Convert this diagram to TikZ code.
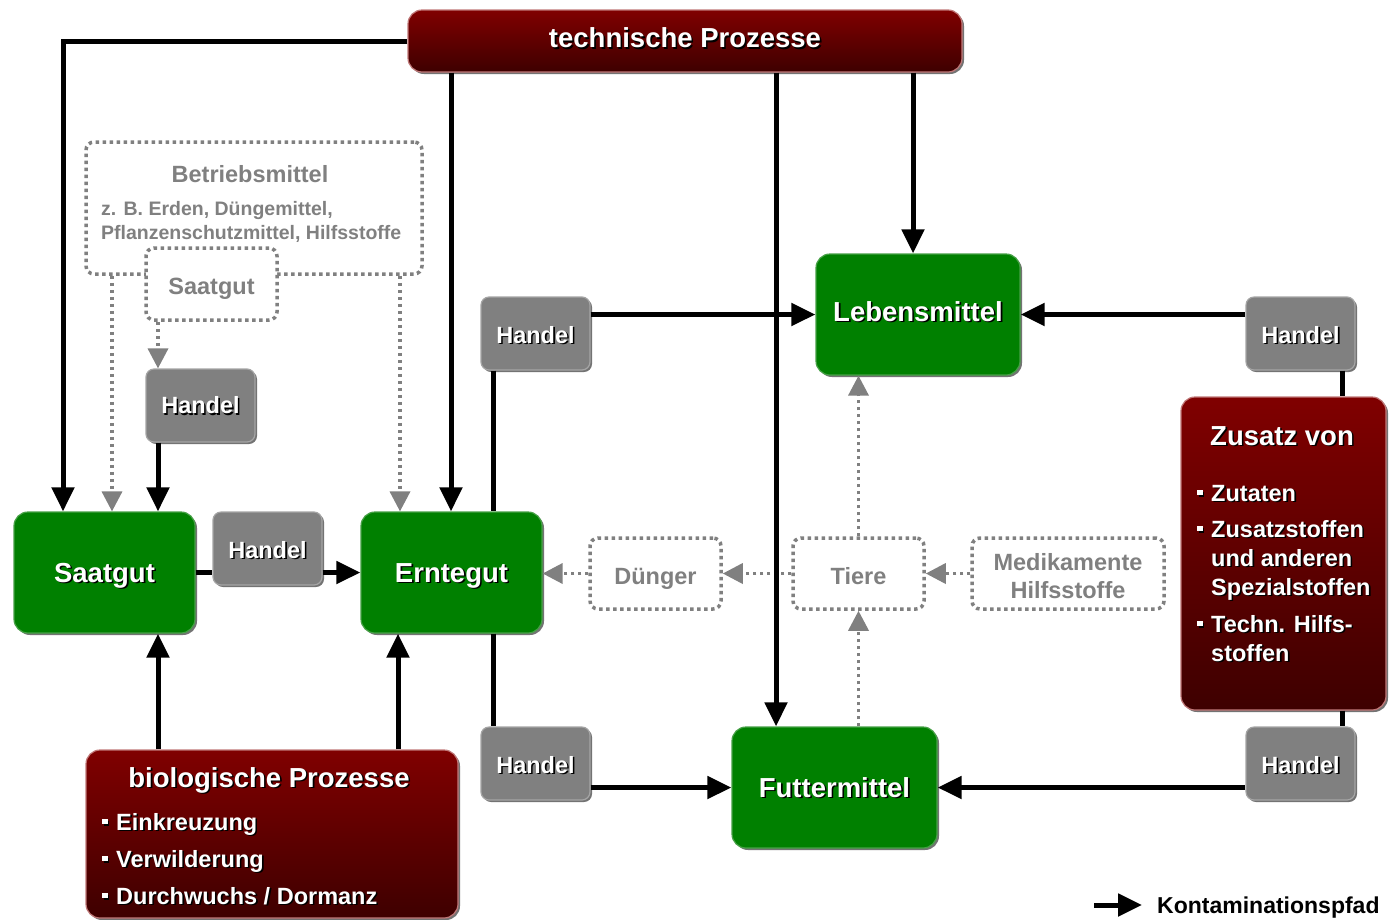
\documentclass[tikz,border=0pt]{standalone}
\usepackage{fontspec}
\setmainfont{Liberation Sans}
\usetikzlibrary{arrows.meta,shadows}

\definecolor{boxgreen}{RGB}{0,128,0}
\definecolor{greenedge}{RGB}{70,160,70}
\definecolor{handelgray}{RGB}{128,128,128}
\definecolor{grayedge}{RGB}{165,165,165}
\definecolor{redtop}{RGB}{128,0,0}
\definecolor{redbottom}{RGB}{62,0,0}
\definecolor{rededge}{RGB}{192,120,120}
\definecolor{dotgray}{RGB}{128,128,128}

% font sizes (1pt = 1 image unit)
\newcommand\fsBig{\fontsize{27.5}{33}\selectfont\bfseries}
\newcommand\fsMid{\fontsize{23.5}{29}\selectfont\bfseries}
\newcommand\fsSmall{\fontsize{19.5}{24}\selectfont\bfseries}
% white text with a black drop shadow
\newcommand\shd[1]{\leavevmode\rlap{\kern1.6pt\raisebox{-1.6pt}{\color{black}#1}}{\color{white}#1}}
% small square bullet
\newcommand\bul{\rule[5.6pt]{5.5pt}{5.5pt}\hspace{8.5pt}}

\tikzset{
  boxshadow/.style={drop shadow={shadow xshift=2pt,shadow yshift=-2pt,opacity=.55,fill=black}},
  greenbox/.style={draw=greenedge, line width=1.2pt, fill=boxgreen, rounded corners=14pt,
    inner sep=0pt, font=\fsBig, text height=19.7pt, text depth=0pt, boxshadow},
  handelbox/.style={draw=grayedge, line width=1.2pt, fill=handelgray, rounded corners=8pt,
    inner sep=0pt, minimum width=109pt, minimum height=73pt,
    font=\fsMid, text height=19.5pt, text depth=0pt, boxshadow},
  redbox/.style={draw=rededge, line width=1.2pt, top color=redtop, bottom color=redbottom,
    rounded corners=14pt, inner sep=0pt, boxshadow},
  dotbox/.style={draw=dotgray, line width=3.5pt, dash pattern=on 3.5pt off 3.5pt,
    rounded corners=8pt, fill=white, text=dotgray, font=\fsMid, inner sep=0pt},
  txt/.style={inner sep=0pt},
  conn/.style={line width=5pt, -{Triangle[length=24pt,width=22pt]}},
  plainline/.style={line width=5pt},
  dotarrow/.style={draw=dotgray, line width=3.5pt, dash pattern=on 3.5pt off 3.5pt,
    -{Triangle[length=20pt,width=20pt,fill=dotgray]}},
}

\begin{document}
\begin{tikzpicture}[x=1pt,y=-1pt]
\useasboundingbox (0,0) rectangle (1391,919);

% process boxes
\node[redbox, minimum width=554pt, minimum height=62pt, font=\fsBig, text height=19.7pt, text depth=6pt]
  (tech) at (685,41) {\shd{technische Prozesse}};
\node[redbox, minimum width=205pt, minimum height=313pt] (zus) at (1283.5,553.5) {};
\node[redbox, minimum width=372pt, minimum height=168pt] (bio) at (272,834) {};

% texts of the process boxes
\node[txt, font=\fsBig, anchor=base] (zusT) at (1282,445) {\shd{Zusatz von}};
\node[txt, font=\fsMid, anchor=base west] (zus1) at (1197,501) {\shd{\bul Zutaten}};
\node[txt, font=\fsMid, anchor=base west] (zus2) at (1197,537) {\shd{\bul Zusatzstoffen}};
\node[txt, font=\fsMid, anchor=base west] (zus3) at (1211,566) {\shd{und anderen}};
\node[txt, font=\fsMid, anchor=base west] (zus4) at (1211,595) {\shd{Spezialstoffen}};
\node[txt, font=\fsMid, anchor=base west] (zus5) at (1197,632) {\shd{\bul Techn. Hilfs-}};
\node[txt, font=\fsMid, anchor=base west] (zus6) at (1211,661) {\shd{stoffen}};

\node[txt, font=\fsBig, anchor=base] (bioT) at (269,787) {\shd{biologische Prozesse}};
\node[txt, font=\fsMid, anchor=base west] (bio1) at (102,830) {\shd{\bul Einkreuzung}};
\node[txt, font=\fsMid, anchor=base west] (bio2) at (102,867) {\shd{\bul Verwilderung}};
\node[txt, font=\fsMid, anchor=base west] (bio3) at (102,904) {\shd{\bul Durchwuchs / Dormanz}};

% products
\node[greenbox, minimum width=181pt, minimum height=121pt] (saat) at (104.5,572.5) {\shd{Saatgut}};
\node[greenbox, minimum width=181pt, minimum height=121pt] (ernte) at (451.5,572.5) {\shd{Erntegut}};
\node[greenbox, minimum width=204pt, minimum height=121pt, text depth=6pt] (lebens) at (918,314.5) {\shd{Lebensmittel}};
\node[greenbox, minimum width=205pt, minimum height=121pt] (futter) at (834.5,787.5) {\shd{Futtermittel}};

% trade
\node[handelbox, text height=16.8pt] (h1) at (200.5,405.5) {\shd{Handel}};
\node[handelbox] (h2) at (267.5,548.5) {\shd{Handel}};
\node[handelbox] (h3) at (535.5,333.5) {\shd{Handel}};
\node[handelbox] (h4) at (1300.5,333.5) {\shd{Handel}};
\node[handelbox] (h5) at (535.5,763.5) {\shd{Handel}};
\node[handelbox] (h6) at (1300.5,763.5) {\shd{Handel}};

% inputs (dotted)
\node[dotbox, minimum width=336pt, minimum height=132pt] (betr) at (254,208) {};
\node[txt, font=\fsMid, text=dotgray, text height=16.8pt, text depth=0pt] (betrT) at (250,174) {Betriebsmittel};
\node[txt, font=\fsSmall, text=dotgray, anchor=base west] (betr1) at (101,215) {z. B. Erden, Düngemittel,};
\node[txt, font=\fsSmall, text=dotgray, anchor=base west] (betr2) at (101,239) {Pflanzenschutzmittel, Hilfsstoffe};
\node[dotbox, minimum width=131pt, minimum height=72pt, text height=20.8pt, text depth=0pt] (saatd) at (211.5,284) {Saatgut};
\node[dotbox, minimum width=131pt, minimum height=71pt, text height=22.8pt, text depth=0pt] (duen) at (655.5,573.5) {Dünger};
\node[dotbox, minimum width=131pt, minimum height=71pt, text height=22.8pt, text depth=0pt] (tiere) at (858.5,573.5) {Tiere};
\node[dotbox, minimum width=192pt, minimum height=71pt] (medi) at (1068,573.5) {};
\node[txt, align=center, text=dotgray, font=\fontsize{23.5}{28}\selectfont\bfseries] (mediT) at (1068,576.5) {Medikamente\\Hilfsstoffe};

% dotted paths
\draw[dotarrow] (112,0 |- betr.south) -- (112,0 |- saat.north);
\draw[dotarrow] (400,0 |- betr.south) -- (400,0 |- ernte.north);
\draw[dotarrow] (158,0 |- saatd.south) -- (158,0 |- h1.north);
\draw[dotarrow] (duen.west) -- (ernte.east |- duen.west);
\draw[dotarrow] (tiere.west) -- (duen.east);
\draw[dotarrow] (medi.west) -- (tiere.east);
\draw[dotarrow] (tiere.north) -- (lebens.south -| tiere.north);
\draw[dotarrow] (futter.north -| tiere.south) -- (tiere.south);

% contamination paths
\draw[conn] (tech.west) -| (63,0 |- saat.north);
\draw[conn] (451,0 |- tech.south) -- (451,0 |- ernte.north);
\draw[conn] (776,0 |- tech.south) -- (776,0 |- futter.north);
\draw[conn] (913,0 |- tech.south) -- (913,0 |- lebens.north);
\draw[conn] (158,0 |- h1.south) -- (158,0 |- saat.north);
\draw[plainline] (saat.east) -- (saat.east -| h2.west);
\draw[conn] (h2.east |- saat.east) -- (ernte.west);
\draw[conn] (h3.east |- lebens.west) -- (lebens.west);
\draw[conn] (h4.west |- lebens.east) -- (lebens.east);
\draw[plainline] (493,0 |- h3.south) -- (493,0 |- ernte.north);
\draw[plainline] (493,0 |- ernte.south) -- (493,0 |- h5.north);
\draw[conn] (h5.east |- futter.west) -- (futter.west);
\draw[conn] (h6.west |- futter.east) -- (futter.east);
\draw[plainline] (1342,0 |- h4.south) -- (1342,0 |- zus.north);
\draw[plainline] (1342,0 |- zus.south) -- (1342,0 |- h6.north);
\draw[conn] (158,0 |- bio.north) -- (158,0 |- saat.south);
\draw[conn] (398,0 |- bio.north) -- (398,0 |- ernte.south);

% legend
\coordinate (legA) at (1094,905);
\coordinate (legB) at (1142,905);
\draw[conn] (legA) -- (legB);
\node[txt, font=\fontsize{23}{27}\selectfont\bfseries, anchor=west, text height=16.5pt, text depth=0pt]
  (legT) at (1157,905) {Kontaminationspfad};
\end{tikzpicture}
\end{document}
